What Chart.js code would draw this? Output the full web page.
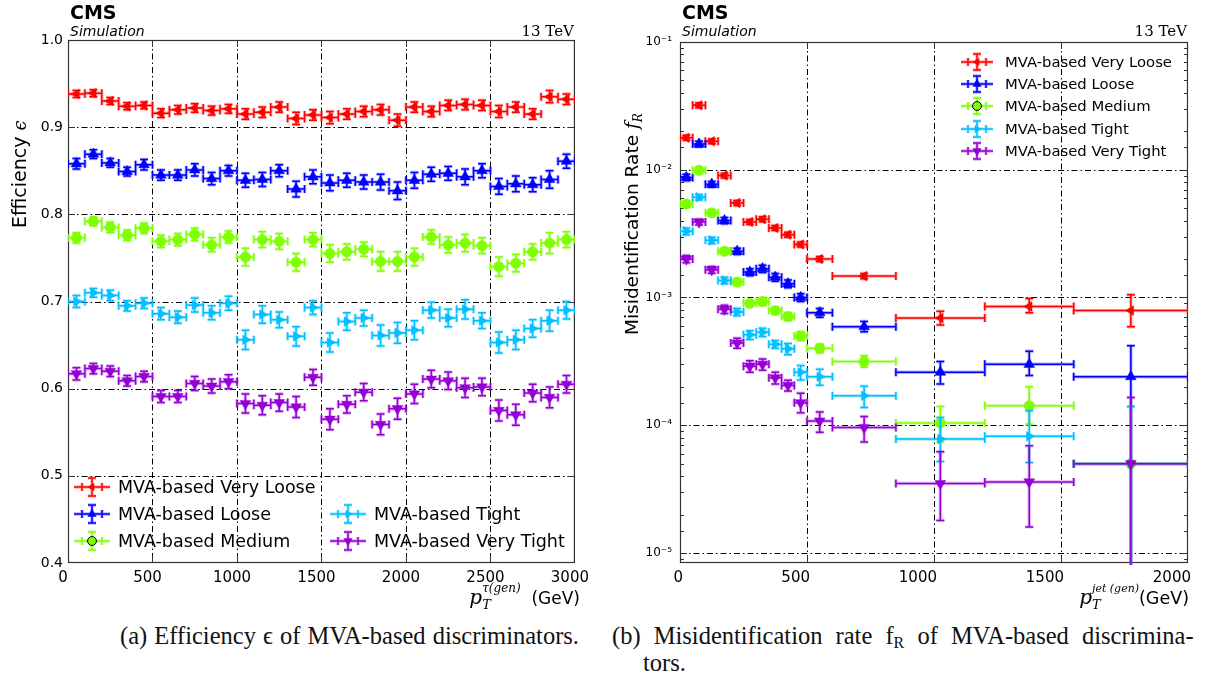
<!DOCTYPE html>
<html>
<head>
<meta charset="utf-8">
<script src="https://cdn.jsdelivr.net/npm/chart.js@4.4.1/dist/chart.umd.min.js"></script>
<style>
  body { margin: 0; background: #fff; width: 1216px; height: 684px; position: relative; overflow: hidden; }
  .panel { position: absolute; top: 0; }
  #effPanel { left: 0; width: 600px; height: 620px; }
  #misPanel { left: 600px; width: 616px; height: 620px; }
  .caption { position: absolute; font-family: "Liberation Serif", "DejaVu Serif", serif; font-size: 24.5px; color: #111; line-height: 27px; white-space: nowrap; }
  .caption sub { font-size: 16px; vertical-align: -4px; line-height: 0; }
</style>
</head>
<body>
<div id="effPanel" class="panel"><canvas id="effChart" width="600" height="620"></canvas></div>
<div id="misPanel" class="panel"><canvas id="misChart" width="616" height="620"></canvas></div>
<div class="caption" style="left:120px; top:622px; word-spacing:1px;">(a) Efficiency &#1013; of MVA-based discriminators.</div>
<div class="caption" style="left:612px; top:622px; word-spacing:7px;">(b) Misidentification rate f<sub>R</sub> of MVA-based discrimina-</div>
<div class="caption" style="left:643px; top:649px;">tors.</div>
<script>
// discriminator working points
const wpLabels = ['MVA-based Very Loose', 'MVA-based Loose', 'MVA-based Medium', 'MVA-based Tight', 'MVA-based Very Tight'];

// efficiency vs generated tau pT (100 GeV bins)
const effEdges = [0, 100, 200, 300, 400, 500, 600, 700, 800, 900, 1000, 1100, 1200, 1300, 1400, 1500,
  1600, 1700, 1800, 1900, 2000, 2100, 2200, 2300, 2400, 2500, 2600, 2700, 2800, 2900, 3000];
const effVeryLoose = [0.938, 0.939, 0.930, 0.924, 0.925, 0.916, 0.920, 0.922, 0.919, 0.921, 0.915, 0.917, 0.923, 0.910, 0.914,
  0.911, 0.915, 0.918, 0.920, 0.908, 0.923, 0.918, 0.925, 0.926, 0.925, 0.918, 0.923, 0.915, 0.935, 0.932];
const effLoose = [0.858, 0.869, 0.859, 0.849, 0.857, 0.845, 0.845, 0.851, 0.841, 0.850, 0.839, 0.840, 0.850, 0.829, 0.843,
  0.836, 0.839, 0.837, 0.837, 0.827, 0.839, 0.846, 0.847, 0.843, 0.850, 0.832, 0.835, 0.834, 0.840, 0.861];
const effMedium = [0.773, 0.792, 0.785, 0.776, 0.784, 0.769, 0.771, 0.777, 0.765, 0.774, 0.751, 0.771, 0.769, 0.745, 0.771,
  0.755, 0.757, 0.760, 0.746, 0.746, 0.751, 0.774, 0.765, 0.767, 0.764, 0.740, 0.744, 0.757, 0.767, 0.771];
const effTight = [0.700, 0.710, 0.707, 0.695, 0.698, 0.686, 0.682, 0.696, 0.687, 0.698, 0.656, 0.685, 0.679, 0.660, 0.693,
  0.653, 0.677, 0.681, 0.661, 0.664, 0.667, 0.690, 0.681, 0.691, 0.678, 0.653, 0.656, 0.669, 0.678, 0.690];
const effVeryTight = [0.617, 0.623, 0.620, 0.609, 0.614, 0.591, 0.591, 0.606, 0.603, 0.608, 0.583, 0.581, 0.584, 0.579, 0.613,
  0.565, 0.582, 0.596, 0.559, 0.577, 0.594, 0.611, 0.609, 0.601, 0.602, 0.575, 0.570, 0.595, 0.590, 0.605];
// statistical uncertainties
const effVeryLooseErr = [0.004, 0.004, 0.004, 0.004, 0.004, 0.005, 0.005, 0.005, 0.005, 0.005, 0.006, 0.006, 0.006, 0.007, 0.006,
  0.007, 0.006, 0.006, 0.006, 0.007, 0.006, 0.006, 0.006, 0.006, 0.006, 0.007, 0.006, 0.006, 0.007, 0.006];
const effLooseErr = [0.006, 0.005, 0.005, 0.005, 0.006, 0.006, 0.006, 0.007, 0.007, 0.006, 0.008, 0.008, 0.007, 0.009, 0.008,
  0.009, 0.008, 0.008, 0.009, 0.010, 0.009, 0.008, 0.008, 0.009, 0.008, 0.009, 0.009, 0.008, 0.010, 0.008];
const effMediumErr = [0.006, 0.005, 0.006, 0.006, 0.006, 0.007, 0.007, 0.007, 0.008, 0.007, 0.010, 0.009, 0.009, 0.010, 0.008,
  0.010, 0.009, 0.008, 0.011, 0.011, 0.010, 0.008, 0.009, 0.010, 0.009, 0.011, 0.010, 0.009, 0.012, 0.009];
const effTightErr = [0.007, 0.005, 0.006, 0.006, 0.006, 0.007, 0.007, 0.008, 0.008, 0.008, 0.011, 0.010, 0.009, 0.011, 0.008,
  0.011, 0.010, 0.009, 0.012, 0.012, 0.011, 0.009, 0.010, 0.011, 0.009, 0.012, 0.011, 0.010, 0.012, 0.010];
const effVeryTightErr = [0.007, 0.006, 0.006, 0.006, 0.006, 0.007, 0.007, 0.008, 0.008, 0.008, 0.011, 0.011, 0.010, 0.012, 0.009,
  0.012, 0.010, 0.010, 0.012, 0.012, 0.011, 0.010, 0.010, 0.011, 0.010, 0.012, 0.012, 0.010, 0.012, 0.010];

// misidentification rate vs generated jet pT
const misEdges = [0, 50, 100, 150, 200, 250, 300, 350, 400, 450, 500, 600, 850, 1200, 1550, 2000];
const misVeryLoose = [0.0178, 0.032, 0.0167, 0.0090, 0.0055, 0.0039, 0.0041, 0.0035, 0.0031, 0.0026, 0.0020, 0.00147, 0.00069, 0.00085, 0.00079];
const misLoose = [0.0087, 0.0159, 0.0077, 0.0040, 0.0023, 0.00158, 0.00168, 0.00144, 0.00128, 0.00100, 0.00076, 0.00059, 0.00026, 0.00030, 0.00024];
const misMedium = [0.0054, 0.0099, 0.0046, 0.0023, 0.00132, 0.00090, 0.00093, 0.00079, 0.00071, 0.00050, 0.00040, 0.000315, 0.000104, 0.000142, 0.00005];
const misTight = [0.0033, 0.0061, 0.0028, 0.00136, 0.00077, 0.00051, 0.000535, 0.00043, 0.000397, 0.00026, 0.00024, 0.00017, 0.000078, 0.000082, 0.00005];
const misVeryTight = [0.0020, 0.0039, 0.00165, 0.00081, 0.00044, 0.00029, 0.00030, 0.000235, 0.000205, 0.00015, 0.000108, 0.000096, 0.000035, 0.000036, 0.00005];
// asymmetric uncertainties (up / down)
const misVeryLooseUp = [0.0008, 0.0014, 0.0007, 0.0004, 0.00025, 0.00018, 0.00019, 0.00016, 0.00014, 0.00012, 0.00009, 0.00007, 0.00009, 0.00013, 0.00026];
const misVeryLooseDn = [0.0008, 0.0014, 0.0007, 0.0004, 0.00025, 0.00018, 0.00019, 0.00016, 0.00014, 0.00012, 0.00009, 0.00007, 0.00008, 0.00009, 0.00020];
const misLooseUp = [0.0005, 0.0008, 0.0004, 0.00022, 0.00013, 0.0001, 0.00011, 0.0001, 0.00009, 0.00007, 0.00006, 0.00006, 0.000055, 0.00008, 0.00018];
const misLooseDn = [0.0005, 0.0008, 0.0004, 0.00022, 0.00013, 0.0001, 0.00011, 0.0001, 0.00009, 0.00007, 0.00006, 0.00005, 0.00005, 0.000055, 0.00024];
const misMediumUp = [0.0003, 0.0005, 0.00025, 0.00012, 0.00008, 0.00005, 0.00006, 0.00005, 0.00005, 0.00004, 0.00003, 0.000035, 0.000036, 0.000058, 0.00009];
const misMediumDn = [0.0003, 0.0005, 0.00025, 0.00012, 0.00008, 0.00005, 0.00006, 0.00005, 0.00005, 0.00004, 0.00003, 0.00003, 0.00003, 0.00004, 0.00005];
const misTightUp = [0.0002, 0.0003, 0.00016, 0.00008, 0.00005, 0.00004, 0.00004, 0.00003, 0.00004, 0.000034, 0.000034, 0.000032, 0.000037, 0.000048, 0.00009];
const misTightDn = [0.0002, 0.0003, 0.00016, 0.00008, 0.00005, 0.00004, 0.00004, 0.00003, 0.00004, 0.000034, 0.000034, 0.000032, 0.000026, 0.000031, 0.00005];
const misVeryTightUp = [0.00013, 0.0002, 0.0001, 0.00006, 0.00004, 0.00003, 0.00003, 0.000025, 0.00002, 0.000028, 0.000019, 0.000021, 0.000027, 0.000033, 0.000115];
const misVeryTightDn = [0.00013, 0.0002, 0.0001, 0.00006, 0.00004, 0.00003, 0.00003, 0.000025, 0.00002, 0.000025, 0.00002, 0.000022, 0.000017, 0.00002, 0.00005];

const effTicksX = [0, 500, 1000, 1500, 2000, 2500, 3000];
const misTicksX = [0, 500, 1000, 1500, 2000];

const styles = [
  { color: '#ff0000', pointStyle: 'triangle', rotation: -90, radius: 5.5 },
  { color: '#0000ff', pointStyle: 'triangle', rotation: 0, radius: 6.2 },
  { color: '#7fff00', pointStyle: 'circle', rotation: 0, radius: 5.2 },
  { color: '#00bfff', pointStyle: 'triangle', rotation: 90, radius: 5.5 },
  { color: '#9400d3', pointStyle: 'triangle', rotation: 180, radius: 6.2 }
];

Chart.defaults.font.family = '"DejaVu Sans", sans-serif';
Chart.defaults.color = '#000';

function makeDatasets(edges, values, ups, downs) {
  return values.map((vals, k) => ({
    label: wpLabels[k],
    data: vals.map((v, i) => ({ x: (edges[i] + edges[i + 1]) / 2, y: v })),
    bars: vals.map((v, i) => ({ xLo: edges[i], xHi: edges[i + 1], yHi: v + ups[k][i], yLo: v - downs[k][i] })),
    order: values.length - k,
    showLine: false,
    pointStyle: styles[k].pointStyle,
    rotation: styles[k].rotation,
    pointRadius: styles[k].radius,
    pointHoverRadius: styles[k].radius,
    backgroundColor: styles[k].color,
    borderColor: styles[k].color,
    borderWidth: 0.5
  }));
}

function strokeBars(ctx, color, drawFn) {
  ctx.strokeStyle = color;
  ctx.globalAlpha = 0.3;
  ctx.lineWidth = 3.4;
  ctx.beginPath(); drawFn(); ctx.stroke();
  ctx.globalAlpha = 1;
  ctx.lineWidth = 1.5;
  ctx.beginPath(); drawFn(); ctx.stroke();
}

// horizontal bin-width bars and vertical uncertainty bars, both with caps
const errorBars = {
  id: 'errorBars',
  beforeDatasetDraw(chart, args) {
    const ds = chart.data.datasets[args.index];
    if (!ds.bars) return;
    const { ctx, chartArea: a, scales: { x, y } } = chart;
    ctx.save();
    ctx.beginPath();
    ctx.rect(a.left, a.top - 2, a.width, a.height + 4);
    ctx.clip();
    const cap = 4;
    strokeBars(ctx, ds.borderColor, () => {
      ds.data.forEach((p, i) => {
        const b = ds.bars[i];
        const px = x.getPixelForValue(p.x), py = y.getPixelForValue(p.y);
        const xl = x.getPixelForValue(b.xLo), xh = x.getPixelForValue(b.xHi);
        const yh = y.getPixelForValue(b.yHi);
        const yl = b.yLo > y.min ? y.getPixelForValue(b.yLo) : a.bottom + 3;
        ctx.moveTo(xl, py); ctx.lineTo(xh, py);
        ctx.moveTo(xl, py - cap); ctx.lineTo(xl, py + cap);
        ctx.moveTo(xh, py - cap); ctx.lineTo(xh, py + cap);
        ctx.moveTo(px, yh); ctx.lineTo(px, yl);
        ctx.moveTo(px - cap, yh); ctx.lineTo(px + cap, yh);
        if (yl < a.bottom) { ctx.moveTo(px - cap, yl); ctx.lineTo(px + cap, yl); }
      });
    });
    ctx.restore();
  }
};

function isDecade(v) {
  const e = Math.log10(v);
  return Math.abs(e - Math.round(e)) < 1e-6;
}

// dash-dot grid, inward ticks and the frame
const frameGrid = {
  id: 'frameGrid',
  beforeDatasetsDraw(chart, args, opts) {
    const { ctx, chartArea: a, scales: { x, y } } = chart;
    const major = s => s.ticks.map(t => t.value).filter(v => s.type !== 'logarithmic' || isDecade(v));
    const inside = (s, v) => v > s.min + 1e-9 && v < s.max - 1e-9;
    ctx.save();
    ctx.strokeStyle = '#000';
    ctx.lineWidth = 1;
    ctx.setLineDash([6, 3, 1.5, 3]);
    ctx.beginPath();
    major(x).filter(v => inside(x, v)).forEach(v => {
      const px = Math.round(x.getPixelForValue(v)) + 0.5;
      ctx.moveTo(px, a.top); ctx.lineTo(px, a.bottom);
    });
    major(y).filter(v => inside(y, v)).forEach(v => {
      const py = Math.round(y.getPixelForValue(v)) + 0.5;
      ctx.moveTo(a.left, py); ctx.lineTo(a.right, py);
    });
    ctx.stroke();
    ctx.setLineDash([]);
    ctx.strokeStyle = '#333';
    ctx.beginPath();
    y.ticks.forEach(t => {
      if (!inside(y, t.value)) return;
      const len = (y.type !== 'logarithmic' || isDecade(t.value)) ? 7 : 4;
      const py = Math.round(y.getPixelForValue(t.value)) + 0.5;
      ctx.moveTo(a.left, py); ctx.lineTo(a.left + len, py);
      ctx.moveTo(a.right, py); ctx.lineTo(a.right - len, py);
    });
    x.ticks.forEach(t => {
      if (!inside(x, t.value)) return;
      const px = Math.round(x.getPixelForValue(t.value)) + 0.5;
      ctx.moveTo(px, a.bottom); ctx.lineTo(px, a.bottom - 7);
      ctx.moveTo(px, a.top); ctx.lineTo(px, a.top + 7);
    });
    ctx.stroke();
    ctx.lineWidth = 1.2;
    ctx.strokeRect(a.left + 0.5, a.top + 0.5, a.width - 1, a.height - 1);
    ctx.restore();
  }
};

function drawMarker(ctx, st, cx, cy, r) {
  ctx.beginPath();
  if (st.pointStyle === 'circle') {
    ctx.arc(cx, cy, r, 0, Math.PI * 2);
  } else {
    let rad = st.rotation * Math.PI / 180;
    for (let i = 0; i < 3; i++) {
      const px = cx + Math.sin(rad) * r, py = cy - Math.cos(rad) * r;
      i === 0 ? ctx.moveTo(px, py) : ctx.lineTo(px, py);
      rad += 2 * Math.PI / 3;
    }
    ctx.closePath();
  }
  ctx.fillStyle = st.color;
  ctx.fill();
}

// legend with errorbar handles, entries placed in given slots
const slotLegend = {
  id: 'slotLegend',
  afterDraw(chart, args, opts) {
    const { ctx } = chart;
    ctx.save();
    ctx.font = opts.fontSize + 'px "DejaVu Sans", sans-serif';
    ctx.textBaseline = 'middle';
    chart.data.datasets.forEach((ds, k) => {
      const [sx, sy] = opts.slots[k];
      const st = styles[k];
      strokeBars(ctx, st.color, () => {
        ctx.moveTo(sx - opts.half, sy); ctx.lineTo(sx + opts.half, sy);
        ctx.moveTo(sx - opts.cap, sy - 4); ctx.lineTo(sx - opts.cap, sy + 4);
        ctx.moveTo(sx + opts.cap, sy - 4); ctx.lineTo(sx + opts.cap, sy + 4);
        ctx.moveTo(sx, sy - opts.vhalf); ctx.lineTo(sx, sy + opts.vhalf);
        ctx.moveTo(sx - 4, sy - opts.vhalf); ctx.lineTo(sx + 4, sy - opts.vhalf);
        ctx.moveTo(sx - 4, sy + opts.vhalf); ctx.lineTo(sx + 4, sy + opts.vhalf);
      });
      drawMarker(ctx, st, sx, sy, st.radius * 0.85);
      if (st.pointStyle === 'circle') {
        ctx.strokeStyle = '#000'; ctx.lineWidth = 1;
        ctx.beginPath(); ctx.arc(sx, sy, st.radius * 0.85, 0, Math.PI * 2); ctx.stroke();
      }
      ctx.fillStyle = '#000';
      ctx.fillText(ds.label, sx + opts.textGap, sy + 1);
    });
    ctx.restore();
  }
};

// draws a run of text pieces with their own fonts and vertical shifts
function richWidth(ctx, parts) {
  return parts.reduce((w, p) => { ctx.font = p.font; return w + (p.stack ? 0 : ctx.measureText(p.text).width) + (p.gap || 0); }, 0);
}
function drawRich(ctx, parts, x, y) {
  let cx = x;
  parts.forEach(p => {
    ctx.font = p.font;
    ctx.fillText(p.text, cx, y + (p.dy || 0));
    if (!p.stack) cx += ctx.measureText(p.text).width;
    cx += p.gap || 0;
  });
}

const panelText = {
  id: 'panelText',
  afterDraw(chart, args, opts) {
    const { ctx, chartArea: a } = chart;
    ctx.save();
    ctx.fillStyle = '#000';
    ctx.textBaseline = 'alphabetic';
    ctx.font = 'bold 19px "DejaVu Sans", sans-serif';
    ctx.fillText('CMS', a.left + 2, 19);
    ctx.font = 'oblique 14px "DejaVu Sans", sans-serif';
    ctx.fillText('Simulation', a.left + 2, 36);
    ctx.font = '15px "DejaVu Serif", serif';
    ctx.textAlign = 'right';
    ctx.fillText('13 TeV', a.right - 1, 36);
    ctx.textAlign = 'left';
    // vertical axis title
    ctx.save();
    ctx.translate(opts.yTitle.x, opts.yTitle.y);
    ctx.rotate(-Math.PI / 2);
    drawRich(ctx, opts.yTitle.parts, 0, 0);
    ctx.restore();
    // horizontal axis title, right aligned
    const w = richWidth(ctx, opts.xTitle.parts);
    drawRich(ctx, opts.xTitle.parts, opts.xTitle.right - w, opts.xTitle.y);
    ctx.restore();
  }
};

const sans = s => s + 'px "DejaVu Sans", sans-serif';
const mathIt = s => 'italic ' + s + 'px "DejaVu Serif", serif';

function fixed(width, height) {
  return s => { if (width) s.width = width; if (height) s.height = height; };
}

const supDigits = { '-': '\u207b', '1': '\u00b9', '2': '\u00b2', '3': '\u00b3', '4': '\u2074', '5': '\u2075', '6': '\u2076' };

new Chart(document.getElementById('effChart'), {
  type: 'scatter',
  data: {
    datasets: makeDatasets(effEdges,
      [effVeryLoose, effLoose, effMedium, effTight, effVeryTight],
      [effVeryLooseErr, effLooseErr, effMediumErr, effTightErr, effVeryTightErr],
      [effVeryLooseErr, effLooseErr, effMediumErr, effTightErr, effVeryTightErr])
  },
  options: {
    responsive: false,
    animation: false,
    devicePixelRatio: 1,
    layout: { padding: { left: 0, right: 21, top: 40, bottom: 17 } },
    scales: {
      x: {
        type: 'linear', min: 0, max: 3000,
        afterFit: fixed(0, 40),
        afterBuildTicks: s => { s.ticks = effTicksX.map(v => ({ value: v })); },
        grid: { display: false, drawTicks: false },
        border: { display: false },
        ticks: { font: { size: 15 }, padding: 6, labelOffset: -5, maxRotation: 0, autoSkip: false, callback: v => String(v) }
      },
      y: {
        type: 'linear', min: 0.4, max: 1.0,
        afterFit: fixed(68, 0),
        grid: { display: false, drawTicks: false },
        border: { display: false },
        ticks: { stepSize: 0.1, font: { size: 14 }, padding: 5, callback: v => v.toFixed(1) }
      }
    },
    plugins: {
      legend: { display: false },
      tooltip: { enabled: false },
      slotLegend: {
        fontSize: 17.5, half: 18, cap: 10, vhalf: 9, textGap: 26,
        slots: [[92, 487], [92, 514], [92, 541], [348, 514], [348, 541]]
      },
      panelText: {
        yTitle: { x: 26, y: 228, parts: [{ text: 'Efficiency ', font: sans(19) }, { text: '\u03f5', font: mathIt(18) }] },
        xTitle: {
          right: 580, y: 604,
          parts: [
            { text: 'p', font: mathIt(20) },
            { text: 'T', font: mathIt(13), dy: 5, stack: true },
            { text: '\u03c4(gen)', font: mathIt(12), dy: -12, gap: 0 },
            { text: '  (GeV)', font: sans(17) }
          ]
        }
      }
    }
  },
  plugins: [frameGrid, errorBars, slotLegend, panelText]
});

new Chart(document.getElementById('misChart'), {
  type: 'scatter',
  data: {
    datasets: makeDatasets(misEdges,
      [misVeryLoose, misLoose, misMedium, misTight, misVeryTight],
      [misVeryLooseUp, misLooseUp, misMediumUp, misTightUp, misVeryTightUp],
      [misVeryLooseDn, misLooseDn, misMediumDn, misTightDn, misVeryTightDn])
  },
  options: {
    responsive: false,
    animation: false,
    devicePixelRatio: 1,
    layout: { padding: { left: 0, right: 28, top: 42, bottom: 17 } },
    scales: {
      x: {
        type: 'linear', min: 0, max: 2000,
        afterFit: fixed(0, 40),
        afterBuildTicks: s => { s.ticks = misTicksX.map(v => ({ value: v })); },
        grid: { display: false, drawTicks: false },
        border: { display: false },
        ticks: { font: { size: 15 }, padding: 6, align: 'end', labelOffset: 3, maxRotation: 0, autoSkip: false, callback: v => String(v) }
      },
      y: {
        type: 'logarithmic', min: 8.35e-6, max: 0.1,
        afterFit: fixed(80, 0),
        grid: { display: false, drawTicks: false },
        border: { display: false },
        ticks: {
          autoSkip: false, font: { size: 12 }, padding: 8,
          callback: v => isDecade(v) ? '10' + String(Math.round(Math.log10(v))).split('').map(c => supDigits[c]).join('') : ''
        }
      }
    },
    plugins: {
      legend: { display: false },
      tooltip: { enabled: false },
      slotLegend: {
        fontSize: 14.8, half: 16, cap: 9, vhalf: 8, textGap: 28,
        slots: [[377, 62], [377, 84], [377, 106], [377, 129], [377, 151]]
      },
      panelText: {
        yTitle: {
          x: 38, y: 335, parts: [
            { text: 'Misidentification Rate ', font: sans(18.5) },
            { text: 'f', font: mathIt(18.5) },
            { text: 'R', font: mathIt(12), dy: 4 }
          ]
        },
        xTitle: {
          right: 589, y: 604,
          parts: [
            { text: 'p', font: mathIt(20) },
            { text: 'T', font: mathIt(13), dy: 5, stack: true },
            { text: 'jet (gen)', font: mathIt(11), dy: -12 },
            { text: '(GeV)', font: sans(17.5) }
          ]
        }
      }
    }
  },
  plugins: [frameGrid, errorBars, slotLegend, panelText]
});
</script>
</body>
</html>
